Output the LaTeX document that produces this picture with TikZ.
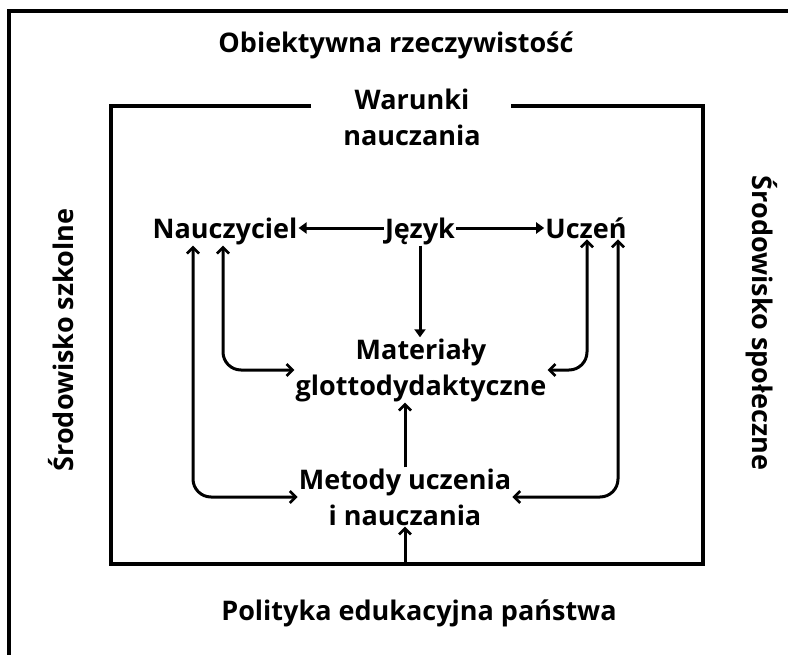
\documentclass[tikz,border=0pt]{standalone}
\usepackage{fontspec}
\setmainfont{Open Sans}[BoldFont={Open Sans Bold}]
\usetikzlibrary{arrows.meta}
\begin{document}
\begin{tikzpicture}[x=1pt,y=-1pt,
  lbl/.style={font=\bfseries\fontsize{27}{36}\selectfont, inner sep=1pt, align=center},
  frame/.style={line width=4pt},
  link/.style={line width=3pt, rounded corners=18pt},
  barb/.style={-{Straight Barb[length=6pt,width=12pt,line width=2.6pt]}},
  barbs/.style={{Straight Barb[length=6pt,width=12pt,line width=2.6pt]}-{Straight Barb[length=6pt,width=12pt,line width=2.6pt]}},
  tri/.style={-{Triangle[length=8pt,width=11pt]}},
]
\useasboundingbox (0,0) rectangle (788,654);
\clip (0,0) rectangle (788,654);

% outer frame (open towards right and bottom)
\draw[frame] (9,700) -- (9,11) -- (820,11);

% inner box with a gap in its top edge for the title
\coordinate (gapL) at (311,106);
\coordinate (gapR) at (511,106);
\draw[frame] (gapL) -- (111,106) -- (111,564) -- (703,564) -- (703,106) -- (gapR);

% surrounding labels
\node[lbl] (obj) at (396,45) {Obiektywna rzeczywistość};
\node[lbl] (war) at (412,117) {Warunki\\nauczania};
\node[lbl] (pol) at (419,613) {Polityka edukacyjna państwa};
\node[lbl, rotate=90] (szk) at (61,340) {Środowisko szkolne};
\node[lbl, rotate=-90] (spo) at (762,323) {Środowisko społeczne};

% inner nodes
\node[lbl, anchor=base] (nau) at (225,238) {Nauczyciel};
\node[lbl, anchor=base] (jez) at (420,238) {Język};
\node[lbl, anchor=base] (ucz) at (586,238) {Uczeń};
\node[lbl] (mat) at (421,370) {Materiały\\glottodydaktyczne};
\node[lbl] (met) at (405,497) {Metody uczenia\\i nauczania};
\coordinate (row) at (0,228);
\coordinate (base) at (405,564);

% connectors
\draw[link, tri] (jez.west |- row) -- (nau.east |- row);
\draw[link, tri] (jez.east |- row) -- (ucz.west |- row);
\draw[link, tri] (jez.south) -- (jez.south |- mat.north);
\draw[link, barb] (met.north) -- (met.north |- mat.south);
\draw[link, barb] (base) -- (met.south);
\draw[link, barbs] ([xshift=-2]nau.south) |- (mat.west);
\draw[link, barbs] ([xshift=-32]nau.south) |- (met.west);
\draw[link, barbs] ([xshift=1]ucz.south) |- (mat.east);
\draw[link, barbs] ([xshift=32]ucz.south) |- (met.east);
\end{tikzpicture}
\end{document}
